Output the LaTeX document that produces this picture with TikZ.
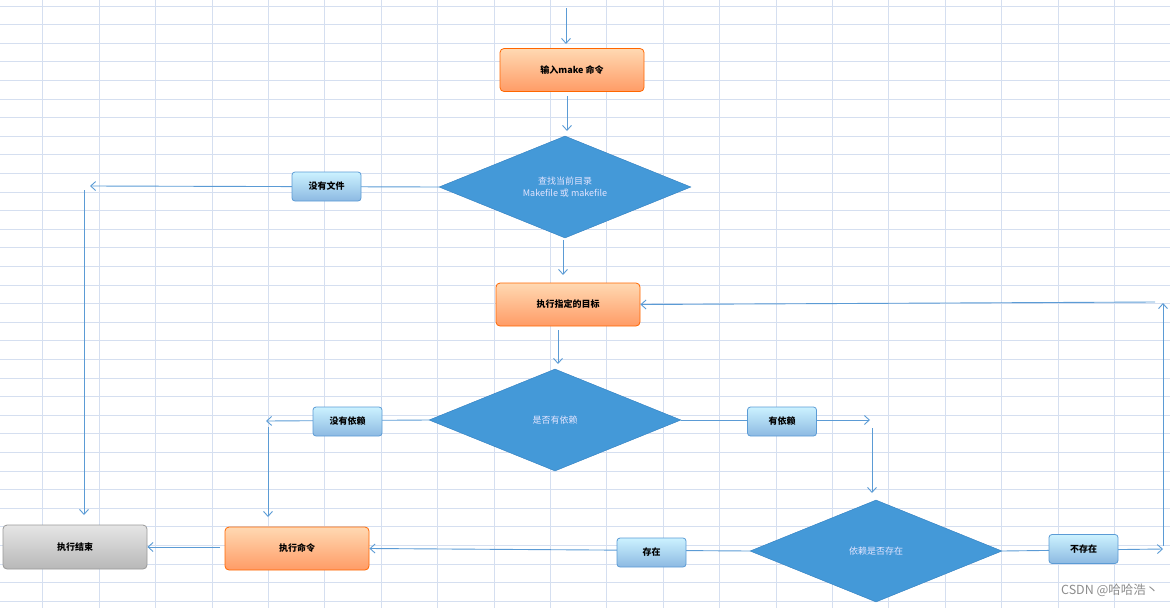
\documentclass[tikz,border=0pt]{standalone}
\usepackage{fontspec}
\setmainfont{Noto Sans CJK SC}
\usetikzlibrary{arrows.meta,shapes.geometric,shadings}
\definecolor{grid}{HTML}{D5DFF0}
\definecolor{ln}{HTML}{5B9BD5}
\definecolor{dia}{HTML}{4499D8}
\definecolor{diab}{HTML}{2F7EC0}
\tikzset{
 x=1pt,y=-1pt,
 ar/.style={draw=ln,line width=0.9pt,-{Straight Barb[length=5pt,width=9pt]}},
 ln/.style={draw=ln,line width=0.9pt},
 orange/.style={rectangle,rounded corners=4pt,draw=orange!80!red,line width=0.8pt,top color=orange!30!white,bottom color=orange!70!red!60!white,minimum width=144pt,minimum height=43pt,font=\bfseries\fontsize{9}{11}\selectfont},
 gray/.style={rectangle,rounded corners=4pt,draw=black!40,line width=0.8pt,top color=black!10,bottom color=black!28,minimum width=144pt,minimum height=44pt,font=\bfseries\fontsize{9}{11}\selectfont},
 lab/.style={rectangle,rounded corners=3pt,draw=ln,line width=0.8pt,top color=blue!25!cyan!20!white,bottom color=ln!70!white,minimum width=69pt,minimum height=29pt,font=\bfseries\fontsize{9}{11}\selectfont},
 dm/.style={diamond,aspect=2.46,draw=diab,fill=dia,minimum width=252pt,minimum height=102pt,inner sep=0pt,text=white!90!blue,font=\fontsize{9}{12}\selectfont,align=center},
}
\begin{document}
\begin{tikzpicture}
\useasboundingbox (0,0) rectangle (1170,608);
\foreach \i in {0,...,20} {\draw[grid,line width=0.7pt] (42.7+56.4*\i,0) -- (42.7+56.4*\i,608);}
\foreach \j in {0,...,32} {\draw[grid,line width=0.7pt] (0,6+18.6*\j) -- (1170,6+18.6*\j);}

\node[orange] (make) at (572,70) {输入make 命令};
\node[dm] (d1) at (565,187) {查找当前目录\\Makefile 或 makefile};
\node[orange] (target) at (568,304.5) {执行指定的目标};
\node[dm] (d2) at (555,420) {是否有依赖};
\node[dm] (d3) at (876,551) {依赖是否存在};
\node[orange] (cmd) at (297,548.5) {执行命令};
\node[gray] (end) at (75,547) {执行结束};

\coordinate (t0) at (566,8); \coordinate (t1) at (566,44);
\draw[ar] (t0) -- (t1);
\coordinate (a1) at (567,96); \coordinate (a2) at (567,131);
\draw[ar] (a1) -- (a2);
\coordinate (a3) at (563,240); \coordinate (a4) at (563,275);
\draw[ar] (a3) -- (a4);
\coordinate (a5) at (558,330); \coordinate (a6) at (558,364);
\draw[ar] (a5) -- (a6);

% no file
\coordinate (nf) at (90,186);
\draw[ar] (d1.west) -- (nf);
\node[lab] (l1) at (326.5,186.5) {没有文件};
\coordinate (nf1) at (84,190); \coordinate (nf2) at (84,515);
\draw[ar] (nf1) -- (nf2);

% no deps
\coordinate (nd) at (266,421);
\draw[ar] (d2.west) -- (nd);
\node[lab] (l2) at (347.5,421.5) {没有依赖};
\coordinate (nd1) at (268,427); \coordinate (nd2) at (268,517);
\draw[ar] (nd1) -- (nd2);

% has deps
\coordinate (hd) at (870,420);
\draw[ar] (d2.east) -- (hd);
\node[lab] (l3) at (782,421.5) {有依赖};
\coordinate (hd1) at (872,428); \coordinate (hd2) at (872,493);
\draw[ar] (hd1) -- (hd2);

% not exist
\coordinate (ne) at (1163,549);
\draw[ar] (d3.east) -- (ne);
\node[lab] (l4) at (1083.5,549) {不存在};
\coordinate (ne1) at (1163,546); \coordinate (ne2) at (1163,303);
\draw[ar] (ne1) -- (ne2);
\coordinate (ne3) at (1155,302);
\draw[ar] (ne3) -- (target.east);

% exists
\draw[ar] (d3.west) -- (cmd.east);
\node[lab] (l5) at (651.5,552.5) {存在};
\coordinate (c1) at (220,547);
\draw[ar] (c1) -- (end.east);

\node[text=black!45,font=\fontsize{12.5}{14}\selectfont,anchor=east] (wm) at (1162,590) {CSDN @哈哈浩丶};
\end{tikzpicture}
\end{document}
